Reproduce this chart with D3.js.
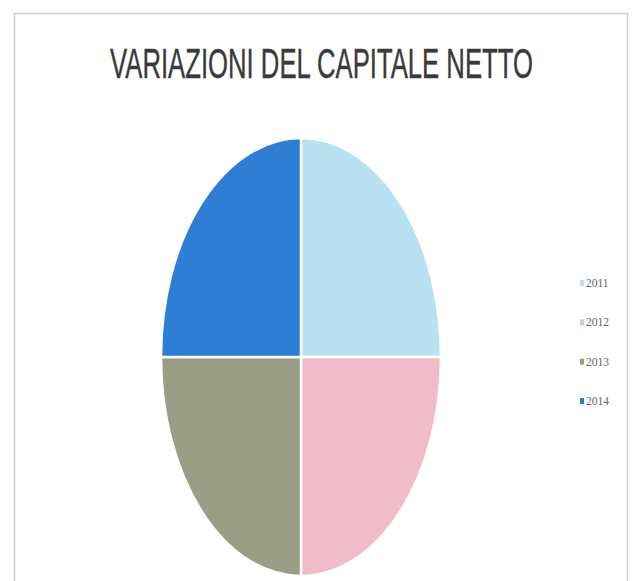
<!DOCTYPE html>
<html>
<head>
<meta charset="utf-8">
<script src="https://cdn.jsdelivr.net/npm/d3@7/dist/d3.min.js"></script>
<style>
  html, body { margin: 0; padding: 0; background: #ffffff; }
  svg { display: block; }
</style>
</head>
<body>
<svg id="chart" width="635" height="581"></svg>
<script>
// ---- Data ----
const title = "VARIAZIONI DEL CAPITALE NETTO";
const categories = ["2011", "2012", "2013", "2014"];
const values = [25, 25, 25, 25];
const colors = ["#b8e2f2", "#f1bcc9", "#9b9e86", "#2f7ed6"];

const svg = d3.select("#chart");

// chart frame
svg.append("rect")
  .attr("x", 14.5).attr("y", 13.5)
  .attr("width", 613).attr("height", 580)
  .attr("fill", "#ffffff")
  .attr("stroke", "#cfcfcf")
  .attr("stroke-width", 1.5);

// title: natural size, then horizontally fitted to the reference width
const titleG = svg.append("g");
const titleText = titleG.append("text")
  .attr("x", 0).attr("y", 0)
  .attr("text-anchor", "middle")
  .attr("font-family", "'Liberation Sans Narrow', 'Liberation Sans', Arial, sans-serif")
  .attr("font-size", 43)
  .attr("fill", "#3a3a3a")
  .attr("stroke", "#3a3a3a")
  .attr("stroke-width", 0.4)
  .text(title);
const tw = titleText.node().getBBox().width;
const sx = 423 / tw;
titleG.attr("transform", `translate(321.5,78) scale(${sx},1)`);

// pie (elliptical)
const cx = 301, cy = 357, rx = 140, ry = 219;
const R = 100;
const color = d3.scaleOrdinal().domain(categories).range(colors);
const pie = d3.pie().sort(null).value(d => d.value);
const arc = d3.arc().innerRadius(0).outerRadius(R);
const data = categories.map((c, i) => ({ cat: c, value: values[i] }));

const g = svg.append("g")
  .attr("transform", `translate(${cx},${cy}) scale(${rx / R},${ry / R})`);

g.selectAll("path")
  .data(pie(data))
  .join("path")
  .attr("d", arc)
  .attr("fill", d => color(d.data.cat))
  .attr("stroke", "#ffffff")
  .attr("stroke-width", 2.5)
  .attr("vector-effect", "non-scaling-stroke");

// legend
const legendY = d3.scalePoint().domain(categories).range([283, 401]);
const items = svg.append("g").selectAll("g")
  .data(categories)
  .join("g")
  .attr("transform", d => `translate(580,${legendY(d)})`);
items.append("rect")
  .attr("x", 0).attr("y", -3)
  .attr("width", 4).attr("height", 6)
  .attr("fill", d => color(d));
items.append("text")
  .attr("x", 6).attr("y", 4)
  .attr("font-family", "'Liberation Serif', 'DejaVu Serif', serif")
  .attr("font-size", 11.5)
  .attr("fill", "#666666")
  .text(d => d);
</script>
</body>
</html>
